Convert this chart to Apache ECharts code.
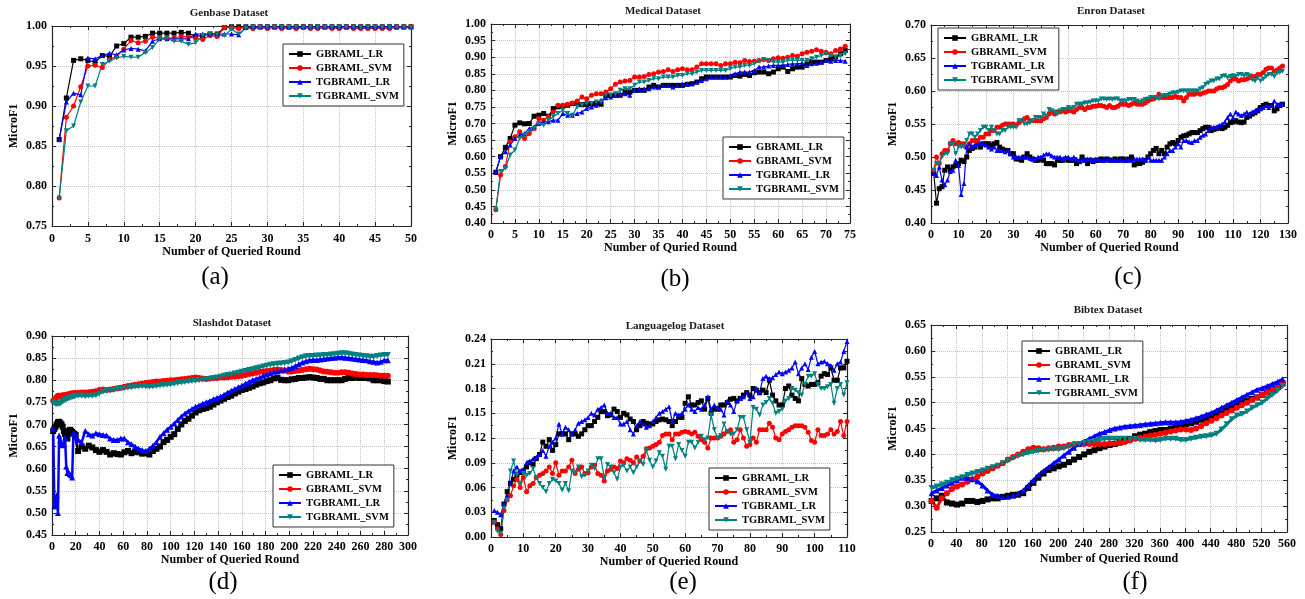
<!DOCTYPE html>
<html>
<head>
<meta charset="utf-8">
<script src="https://cdn.jsdelivr.net/npm/echarts@6/dist/echarts.min.js"></script>
<style>
  html, body { margin: 0; background: #fff; }
  #chart { width: 1305px; height: 599px; }
</style>
</head>
<body>
<div id="chart"></div>
<script>
const seriesNames = ['GBRAML_LR', 'GBRAML_SVM', 'TGBRAML_LR', 'TGBRAML_SVM'];
const colors = ['#000000', '#ff0000', '#0000ff', '#008080'];
const symbols = ['rect', 'circle', 'triangle', 'triangle'];
const symbolRotate = [0, 0, 0, 180];

// (a) Genbase, rounds 1..50
const genbaseLR = [
  0.858,0.910,0.957,0.959,0.957,0.955,0.963,0.962,0.975,0.978,
  0.986,0.986,0.987,0.991,0.991,0.991,0.991,0.992,0.991,0.987,
  0.988,0.990,0.990,0.998,0.999,0.999,0.999,0.999,0.999,0.999,
  0.999,0.999,0.999,0.999,0.999,0.999,0.999,0.999,0.999,0.999,
  0.999,0.999,0.999,0.999,0.999,0.999,0.999,0.999,0.999,0.999];
const genbaseSVM = [
  0.785,0.886,0.900,0.924,0.950,0.951,0.948,0.958,0.962,0.971,
  0.982,0.979,0.981,0.986,0.985,0.985,0.985,0.987,0.986,0.985,
  0.983,0.988,0.987,0.998,0.998,0.997,0.998,0.997,0.998,0.997,
  0.998,0.997,0.998,0.997,0.998,0.997,0.997,0.998,0.997,0.997,
  0.998,0.997,0.997,0.997,0.997,0.997,0.997,0.998,0.998,0.999];
const genbaseTLR = [
  0.858,0.905,0.916,0.914,0.960,0.959,0.963,0.966,0.964,0.970,
  0.972,0.971,0.969,0.981,0.984,0.984,0.984,0.984,0.984,0.990,
  0.990,0.990,0.990,0.990,0.990,0.989,0.998,0.999,0.999,0.999,
  0.999,0.999,0.999,0.999,0.999,0.999,0.999,0.999,0.999,0.999,
  0.999,0.999,0.999,0.999,0.999,0.999,0.999,0.999,0.999,0.999];
const genbaseTSVM = [
  0.785,0.869,0.875,0.905,0.925,0.925,0.952,0.956,0.960,0.962,
  0.961,0.961,0.967,0.973,0.984,0.984,0.981,0.981,0.977,0.979,
  0.988,0.990,0.989,0.988,0.996,0.990,0.997,0.998,0.998,0.998,
  0.998,0.998,0.998,0.998,0.998,0.998,0.998,0.998,0.998,0.998,
  0.998,0.998,0.998,0.998,0.998,0.998,0.998,0.998,0.998,0.998];

// (b) Medical, rounds 1..74
const medicalLR = [
  0.553,0.600,0.628,0.655,0.695,0.702,0.699,0.700,0.722,0.725,
  0.730,0.722,0.745,0.750,0.752,0.755,0.760,0.760,0.757,0.757,
  0.760,0.760,0.758,0.785,0.785,0.785,0.785,0.795,0.795,0.800,
  0.800,0.800,0.810,0.815,0.810,0.815,0.815,0.815,0.815,0.815,
  0.818,0.820,0.825,0.835,0.840,0.840,0.840,0.840,0.840,0.840,
  0.845,0.843,0.848,0.845,0.853,0.855,0.855,0.850,0.855,0.865,
  0.870,0.857,0.865,0.870,0.870,0.880,0.885,0.885,0.885,0.890,
  0.895,0.900,0.910,0.920];
const medicalSVM = [
  0.440,0.545,0.570,0.645,0.660,0.675,0.655,0.670,0.685,0.715,
  0.710,0.720,0.735,0.755,0.755,0.758,0.762,0.768,0.780,0.775,
  0.785,0.790,0.790,0.795,0.805,0.818,0.825,0.828,0.830,0.840,
  0.840,0.842,0.848,0.850,0.855,0.857,0.862,0.857,0.862,0.865,
  0.862,0.862,0.870,0.880,0.880,0.880,0.880,0.875,0.880,0.880,
  0.885,0.883,0.890,0.887,0.888,0.890,0.893,0.890,0.895,0.898,
  0.897,0.900,0.905,0.903,0.910,0.915,0.918,0.922,0.918,0.915,
  0.910,0.920,0.925,0.933];
const medicalTLR = [
  0.553,0.600,0.615,0.635,0.655,0.665,0.670,0.685,0.690,0.700,
  0.705,0.705,0.710,0.710,0.730,0.725,0.725,0.730,0.735,0.745,
  0.750,0.755,0.770,0.778,0.780,0.785,0.790,0.790,0.785,0.800,
  0.805,0.805,0.805,0.810,0.810,0.815,0.815,0.810,0.815,0.820,
  0.820,0.820,0.825,0.830,0.835,0.840,0.840,0.840,0.840,0.845,
  0.850,0.855,0.855,0.855,0.860,0.870,0.870,0.873,0.875,0.875,
  0.875,0.878,0.880,0.880,0.882,0.875,0.880,0.882,0.885,0.890,
  0.888,0.890,0.890,0.888];
const medicalTSVM = [
  0.440,0.555,0.565,0.605,0.620,0.655,0.665,0.675,0.685,0.700,
  0.695,0.710,0.720,0.730,0.740,0.730,0.725,0.750,0.755,0.760,
  0.760,0.765,0.765,0.785,0.785,0.790,0.800,0.805,0.805,0.815,
  0.825,0.825,0.830,0.835,0.835,0.840,0.840,0.840,0.845,0.845,
  0.850,0.850,0.855,0.860,0.860,0.860,0.860,0.860,0.860,0.865,
  0.870,0.870,0.875,0.875,0.880,0.888,0.893,0.890,0.885,0.885,
  0.885,0.890,0.890,0.890,0.890,0.890,0.895,0.900,0.905,0.910,
  0.905,0.900,0.905,0.910];

// (c) Enron, rounds 1..128
const enronLR = [
  0.475,0.430,0.452,0.455,0.480,0.485,0.480,0.485,0.487,0.490,
  0.495,0.493,0.500,0.510,0.513,0.515,0.520,0.515,0.520,0.520,
  0.520,0.518,0.520,0.522,0.515,0.512,0.510,0.510,0.505,0.505,
  0.497,0.497,0.495,0.500,0.505,0.500,0.497,0.495,0.495,0.497,
  0.495,0.490,0.490,0.490,0.488,0.495,0.495,0.495,0.497,0.495,
  0.495,0.495,0.490,0.493,0.500,0.495,0.490,0.495,0.493,0.495,
  0.495,0.497,0.495,0.497,0.495,0.495,0.497,0.495,0.497,0.497,
  0.495,0.497,0.500,0.488,0.490,0.490,0.492,0.495,0.500,0.505,
  0.510,0.513,0.505,0.510,0.505,0.515,0.520,0.522,0.520,0.525,
  0.530,0.532,0.533,0.535,0.537,0.537,0.537,0.540,0.543,0.545,
  0.545,0.540,0.542,0.543,0.545,0.543,0.545,0.548,0.552,0.553,
  0.555,0.553,0.552,0.553,0.560,0.562,0.565,0.567,0.570,0.575,
  0.578,0.580,0.578,0.578,0.570,0.573,0.578,0.580];
const enronSVM = [
  0.480,0.500,0.490,0.505,0.510,0.510,0.520,0.525,0.520,0.522,
  0.520,0.520,0.515,0.520,0.525,0.525,0.525,0.530,0.530,0.535,
  0.535,0.540,0.540,0.545,0.545,0.548,0.550,0.550,0.550,0.550,
  0.548,0.552,0.555,0.558,0.560,0.555,0.555,0.555,0.555,0.555,
  0.558,0.560,0.565,0.568,0.565,0.568,0.568,0.570,0.568,0.570,
  0.570,0.568,0.572,0.575,0.575,0.572,0.575,0.575,0.577,0.577,
  0.578,0.578,0.577,0.575,0.578,0.575,0.575,0.577,0.580,0.580,
  0.580,0.578,0.580,0.582,0.580,0.580,0.580,0.582,0.585,0.587,
  0.588,0.590,0.595,0.590,0.590,0.590,0.590,0.590,0.592,0.590,
  0.590,0.585,0.590,0.595,0.595,0.595,0.597,0.595,0.597,0.598,
  0.600,0.600,0.600,0.603,0.605,0.605,0.607,0.610,0.615,0.618,
  0.618,0.615,0.617,0.617,0.618,0.620,0.622,0.622,0.625,0.625,
  0.628,0.633,0.635,0.635,0.630,0.632,0.635,0.638];
const enronTLR = [
  0.475,0.472,0.485,0.465,0.458,0.465,0.478,0.480,0.495,0.487,
  0.443,0.460,0.515,0.520,0.515,0.518,0.520,0.520,0.520,0.518,
  0.515,0.512,0.515,0.510,0.510,0.510,0.508,0.510,0.505,0.500,
  0.500,0.500,0.500,0.500,0.500,0.498,0.497,0.497,0.500,0.500,
  0.503,0.505,0.505,0.502,0.500,0.500,0.500,0.497,0.500,0.500,
  0.497,0.500,0.497,0.495,0.497,0.495,0.497,0.497,0.495,0.497,
  0.497,0.495,0.495,0.497,0.497,0.495,0.495,0.495,0.495,0.495,
  0.495,0.495,0.495,0.497,0.497,0.497,0.497,0.495,0.500,0.495,
  0.495,0.495,0.495,0.495,0.500,0.505,0.510,0.510,0.515,0.520,
  0.515,0.525,0.525,0.523,0.522,0.525,0.525,0.530,0.533,0.535,
  0.540,0.545,0.545,0.545,0.548,0.550,0.553,0.560,0.565,0.560,
  0.568,0.565,0.563,0.565,0.568,0.565,0.568,0.570,0.573,0.573,
  0.575,0.578,0.575,0.578,0.585,0.580,0.580,0.580];
const enronTSVM = [
  0.480,0.490,0.490,0.500,0.505,0.505,0.520,0.520,0.505,0.515,
  0.515,0.515,0.525,0.535,0.535,0.530,0.535,0.540,0.545,0.545,
  0.540,0.545,0.540,0.535,0.535,0.540,0.540,0.545,0.545,0.545,
  0.545,0.555,0.555,0.550,0.550,0.552,0.555,0.560,0.560,0.560,
  0.565,0.562,0.572,0.570,0.568,0.565,0.570,0.572,0.572,0.575,
  0.573,0.575,0.580,0.580,0.580,0.582,0.582,0.583,0.585,0.585,
  0.585,0.588,0.588,0.587,0.588,0.587,0.588,0.588,0.585,0.585,
  0.585,0.587,0.587,0.587,0.585,0.583,0.585,0.587,0.588,0.590,
  0.590,0.590,0.588,0.592,0.593,0.593,0.595,0.597,0.597,0.598,
  0.600,0.600,0.600,0.600,0.600,0.600,0.600,0.603,0.605,0.610,
  0.612,0.615,0.615,0.618,0.618,0.622,0.623,0.620,0.622,0.623,
  0.622,0.625,0.625,0.623,0.625,0.623,0.617,0.615,0.620,0.615,
  0.618,0.622,0.625,0.625,0.622,0.627,0.628,0.630];

// (d) Slashdot: every round up to 20, then every third round
const roundsSlashdot = [];
for (let r = 1; r <= 20; r++) roundsSlashdot.push(r);
for (let r = 22; r <= 283; r += 3) roundsSlashdot.push(r);
const slashdotLR = [
  0.685,0.690,0.695,0.700,0.705,0.706,0.703,0.700,0.695,0.685,
  0.678,0.672,0.668,0.680,0.688,0.686,0.683,0.680,0.678,0.676,
  0.640,0.650,0.645,0.652,0.648,0.642,0.638,0.642,0.638,0.632,
  0.635,0.633,0.632,0.637,0.640,0.635,0.638,0.637,0.634,0.635,
  0.632,0.640,0.645,0.650,0.660,0.665,0.672,0.678,0.690,0.700,
  0.708,0.713,0.720,0.727,0.732,0.735,0.737,0.740,0.745,0.750,
  0.754,0.758,0.762,0.765,0.770,0.774,0.778,0.780,0.783,0.786,
  0.790,0.793,0.795,0.798,0.800,0.804,0.805,0.801,0.800,0.800,
  0.802,0.803,0.805,0.805,0.806,0.807,0.806,0.805,0.803,0.803,
  0.800,0.800,0.800,0.800,0.800,0.803,0.805,0.805,0.806,0.805,
  0.805,0.805,0.804,0.800,0.800,0.800,0.798,0.797];
const slashdotSVM = [
  0.753,0.755,0.758,0.762,0.765,0.765,0.764,0.765,0.766,0.765,
  0.766,0.767,0.767,0.768,0.768,0.770,0.770,0.770,0.771,0.770,
  0.771,0.772,0.772,0.773,0.774,0.775,0.778,0.779,0.778,0.779,
  0.780,0.782,0.783,0.785,0.787,0.788,0.790,0.791,0.792,0.794,
  0.795,0.796,0.797,0.797,0.798,0.799,0.800,0.800,0.801,0.802,
  0.803,0.804,0.805,0.806,0.805,0.804,0.803,0.804,0.805,0.805,
  0.806,0.806,0.807,0.808,0.808,0.809,0.810,0.812,0.814,0.815,
  0.817,0.819,0.820,0.821,0.822,0.823,0.824,0.823,0.822,0.820,
  0.820,0.821,0.822,0.823,0.825,0.826,0.825,0.824,0.822,0.820,
  0.819,0.818,0.817,0.817,0.818,0.818,0.817,0.815,0.814,0.813,
  0.813,0.812,0.812,0.812,0.811,0.810,0.810,0.810];
const slashdotTLR = [
  0.690,0.515,0.515,0.540,0.500,0.675,0.665,0.655,0.653,0.655,
  0.670,0.605,0.590,0.592,0.588,0.585,0.580,0.680,0.678,0.675,
  0.665,0.660,0.685,0.678,0.675,0.680,0.678,0.676,0.675,0.668,
  0.665,0.665,0.668,0.668,0.660,0.655,0.650,0.645,0.642,0.640,
  0.645,0.652,0.660,0.672,0.680,0.688,0.695,0.702,0.710,0.718,
  0.725,0.730,0.735,0.740,0.743,0.747,0.750,0.753,0.757,0.760,
  0.763,0.767,0.772,0.776,0.780,0.784,0.788,0.792,0.796,0.800,
  0.803,0.806,0.810,0.813,0.816,0.819,0.820,0.822,0.824,0.826,
  0.828,0.832,0.836,0.840,0.843,0.845,0.846,0.846,0.847,0.848,
  0.849,0.850,0.851,0.852,0.852,0.851,0.850,0.849,0.848,0.847,
  0.846,0.845,0.843,0.842,0.840,0.842,0.845,0.845];
const slashdotTSVM = [
  0.750,0.748,0.747,0.746,0.746,0.747,0.748,0.750,0.752,0.754,
  0.755,0.757,0.758,0.760,0.760,0.761,0.762,0.763,0.764,0.765,
  0.765,0.765,0.764,0.765,0.765,0.766,0.770,0.774,0.776,0.777,
  0.778,0.780,0.781,0.782,0.783,0.784,0.785,0.786,0.787,0.786,
  0.785,0.786,0.787,0.788,0.789,0.790,0.791,0.792,0.794,0.795,
  0.796,0.797,0.798,0.799,0.800,0.801,0.802,0.803,0.805,0.806,
  0.808,0.810,0.812,0.813,0.815,0.817,0.819,0.821,0.823,0.825,
  0.827,0.829,0.831,0.833,0.835,0.836,0.837,0.838,0.839,0.840,
  0.843,0.846,0.849,0.852,0.854,0.855,0.855,0.856,0.856,0.857,
  0.857,0.858,0.859,0.860,0.861,0.861,0.860,0.858,0.857,0.856,
  0.855,0.854,0.853,0.853,0.855,0.856,0.857,0.857];

// (e) Languagelog, rounds 1..110
const langLR = [
  0.020,0.015,0.010,0.040,0.055,0.065,0.070,0.075,0.078,0.080,
  0.085,0.090,0.088,0.095,0.100,0.115,0.110,0.118,0.105,0.112,
  0.125,0.125,0.125,0.118,0.125,0.125,0.122,0.125,0.130,0.135,
  0.135,0.140,0.145,0.152,0.152,0.147,0.148,0.155,0.152,0.145,
  0.150,0.148,0.143,0.140,0.130,0.135,0.140,0.138,0.137,0.137,
  0.140,0.142,0.143,0.142,0.140,0.135,0.140,0.145,0.145,0.162,
  0.170,0.160,0.160,0.163,0.165,0.155,0.168,0.150,0.155,0.155,
  0.160,0.160,0.163,0.167,0.168,0.165,0.168,0.172,0.175,0.172,
  0.180,0.178,0.175,0.178,0.175,0.190,0.172,0.165,0.160,0.160,
  0.180,0.183,0.172,0.168,0.165,0.192,0.185,0.183,0.185,0.185,
  0.187,0.195,0.198,0.197,0.205,0.190,0.190,0.205,0.205,0.213];
const langSVM = [
  0.018,0.010,0.003,0.032,0.045,0.050,0.062,0.070,0.060,0.072,
  0.055,0.062,0.065,0.072,0.075,0.077,0.080,0.085,0.077,0.090,
  0.075,0.080,0.080,0.085,0.093,0.077,0.082,0.085,0.077,0.078,
  0.085,0.087,0.077,0.075,0.068,0.080,0.082,0.085,0.083,0.092,
  0.090,0.095,0.093,0.090,0.097,0.092,0.098,0.107,0.108,0.110,
  0.112,0.115,0.123,0.125,0.125,0.118,0.125,0.125,0.127,0.128,
  0.127,0.125,0.127,0.122,0.118,0.115,0.108,0.120,0.120,0.120,
  0.122,0.125,0.128,0.130,0.115,0.118,0.130,0.120,0.110,0.112,
  0.120,0.115,0.130,0.130,0.130,0.138,0.133,0.120,0.118,0.125,
  0.128,0.130,0.133,0.135,0.135,0.135,0.133,0.127,0.117,0.115,
  0.130,0.123,0.123,0.125,0.130,0.125,0.128,0.140,0.123,0.140];
const langTLR = [
  0.032,0.030,0.027,0.040,0.050,0.065,0.080,0.085,0.080,0.082,
  0.090,0.092,0.095,0.097,0.100,0.105,0.098,0.110,0.115,0.120,
  0.137,0.125,0.133,0.130,0.125,0.130,0.138,0.140,0.142,0.145,
  0.150,0.148,0.155,0.157,0.160,0.150,0.150,0.145,0.145,0.137,
  0.137,0.140,0.130,0.125,0.135,0.140,0.137,0.133,0.135,0.140,
  0.145,0.150,0.152,0.155,0.158,0.140,0.150,0.148,0.150,0.155,
  0.160,0.155,0.152,0.157,0.155,0.160,0.170,0.155,0.160,0.157,
  0.155,0.148,0.165,0.160,0.152,0.165,0.168,0.170,0.175,0.168,
  0.170,0.180,0.175,0.192,0.195,0.192,0.193,0.197,0.200,0.198,
  0.200,0.202,0.205,0.212,0.198,0.205,0.210,0.203,0.218,0.225,
  0.210,0.212,0.213,0.210,0.208,0.202,0.210,0.212,0.225,0.237];
const langTSVM = [
  0.018,0.007,0.005,0.035,0.045,0.080,0.092,0.075,0.065,0.077,
  0.075,0.077,0.083,0.072,0.065,0.060,0.055,0.065,0.070,0.068,
  0.065,0.057,0.065,0.056,0.080,0.078,0.085,0.073,0.075,0.080,
  0.087,0.083,0.095,0.095,0.072,0.088,0.085,0.078,0.070,0.085,
  0.087,0.080,0.085,0.078,0.085,0.092,0.088,0.105,0.093,0.085,
  0.092,0.102,0.098,0.082,0.110,0.110,0.095,0.112,0.105,0.098,
  0.115,0.115,0.108,0.115,0.122,0.118,0.120,0.148,0.130,0.120,
  0.123,0.137,0.128,0.125,0.125,0.130,0.145,0.145,0.130,0.115,
  0.157,0.155,0.148,0.160,0.163,0.168,0.162,0.150,0.152,0.155,
  0.165,0.168,0.180,0.178,0.175,0.172,0.185,0.195,0.195,0.198,
  0.185,0.180,0.180,0.182,0.185,0.162,0.180,0.185,0.172,0.187];

// (f) Bibtex: every eighth round from 1 to 553
const roundsBibtex = [];
for (let r = 1; r <= 553; r += 8) roundsBibtex.push(r);
const bibtexLR = [
  0.310,0.315,0.320,0.307,0.305,0.303,0.305,0.310,0.310,0.308,
  0.310,0.313,0.315,0.315,0.318,0.320,0.322,0.322,0.325,0.335,
  0.345,0.355,0.363,0.370,0.373,0.377,0.380,0.385,0.390,0.395,
  0.400,0.405,0.408,0.412,0.415,0.418,0.420,0.423,0.427,0.430,
  0.435,0.438,0.440,0.443,0.445,0.447,0.447,0.450,0.452,0.455,
  0.458,0.460,0.463,0.467,0.470,0.473,0.478,0.483,0.488,0.490,
  0.495,0.500,0.503,0.507,0.510,0.515,0.520,0.525,0.530,0.537];
const bibtexSVM = [
  0.310,0.297,0.315,0.325,0.333,0.338,0.342,0.347,0.352,0.357,
  0.363,0.368,0.373,0.378,0.383,0.390,0.395,0.400,0.405,0.410,
  0.413,0.412,0.410,0.412,0.413,0.415,0.415,0.418,0.420,0.420,
  0.420,0.420,0.420,0.420,0.420,0.421,0.421,0.422,0.424,0.427,
  0.430,0.432,0.434,0.436,0.438,0.440,0.442,0.444,0.446,0.448,
  0.448,0.447,0.450,0.455,0.460,0.465,0.470,0.475,0.480,0.485,
  0.490,0.495,0.500,0.505,0.510,0.515,0.520,0.525,0.530,0.538];
const bibtexTLR = [
  0.325,0.330,0.335,0.340,0.345,0.350,0.355,0.355,0.352,0.348,
  0.340,0.330,0.322,0.320,0.318,0.318,0.320,0.325,0.330,0.340,
  0.350,0.360,0.368,0.375,0.383,0.390,0.398,0.405,0.413,0.420,
  0.425,0.430,0.435,0.440,0.443,0.447,0.450,0.452,0.454,0.455,
  0.456,0.457,0.458,0.459,0.460,0.461,0.462,0.462,0.462,0.463,
  0.465,0.467,0.470,0.473,0.477,0.480,0.485,0.490,0.495,0.500,
  0.505,0.510,0.515,0.520,0.525,0.528,0.532,0.536,0.540,0.545];
const bibtexTSVM = [
  0.335,0.338,0.342,0.345,0.350,0.353,0.356,0.360,0.363,0.366,
  0.369,0.372,0.375,0.378,0.383,0.388,0.393,0.397,0.400,0.403,
  0.405,0.407,0.408,0.409,0.410,0.410,0.412,0.415,0.418,0.420,
  0.422,0.424,0.426,0.428,0.430,0.430,0.430,0.430,0.430,0.429,
  0.430,0.428,0.428,0.428,0.427,0.428,0.430,0.430,0.430,0.428,
  0.428,0.430,0.432,0.434,0.435,0.437,0.440,0.448,0.458,0.468,
  0.475,0.478,0.483,0.490,0.495,0.500,0.508,0.515,0.523,0.532];

function seq(n) {
  const r = [];
  for (let i = 1; i <= n; i++) r.push(i);
  return r;
}

const queried = 'Number of Queried Round';
const panels = [
  { title: 'Genbase Dataset', caption: '(a)', xName: queried,
    box: [52, 26, 359, 200], titleAt: [229, 14], captionAt: [215, 278], legendAt: [283, 44],
    x: [0, 50, 5], y: [0.75, 1.0, 0.05], rounds: seq(50),
    values: [genbaseLR, genbaseSVM, genbaseTLR, genbaseTSVM], size: 5, width: 1.2, margin: 7, nameGap: 15 },
  { title: 'Medical Dataset', caption: '(b)', xName: 'Number of Quried Round',
    box: [491, 24, 359, 199], titleAt: [663, 12], captionAt: [675, 280], legendAt: [723, 137],
    x: [0, 75, 5], y: [0.4, 1.0, 0.05], rounds: seq(74),
    values: [medicalLR, medicalSVM, medicalTLR, medicalTSVM], size: 5, width: 1.2, margin: 6, nameGap: 18 },
  { title: 'Enron Dataset', caption: '(c)', xName: queried,
    box: [931, 25, 357, 198], titleAt: [1111, 12], captionAt: [1128, 278], legendAt: [938, 28],
    x: [0, 130, 10], y: [0.4, 0.7, 0.05], rounds: seq(128),
    values: [enronLR, enronSVM, enronTLR, enronTSVM], size: 5, width: 1.2, margin: 6, nameGap: 18 },
  { title: 'Slashdot Dataset', caption: '(d)', xName: queried,
    box: [52, 336, 356, 199], titleAt: [232, 324], captionAt: [223, 583], legendAt: [273, 465],
    x: [0, 300, 20], y: [0.45, 0.9, 0.05], rounds: roundsSlashdot,
    values: [slashdotLR, slashdotSVM, slashdotTLR, slashdotTSVM], size: 6, width: 2.5, margin: 6, nameGap: 18 },
  { title: 'Languagelog Dataset', caption: '(e)', xName: queried,
    box: [491, 339, 356, 198], titleAt: [675, 327], captionAt: [683, 583], legendAt: [709, 468],
    x: [0, 110, 10], y: [0, 0.24, 0.03], rounds: seq(110),
    values: [langLR, langSVM, langTLR, langTSVM], size: 5, width: 1.2, margin: 6, nameGap: 17 },
  { title: 'Bibtex Dataset', caption: '(f)', xName: queried,
    box: [931, 325, 356, 207], titleAt: [1108, 311], captionAt: [1135, 583], legendAt: [1022, 341],
    x: [0, 560, 40], y: [0.25, 0.65, 0.05], rounds: roundsBibtex,
    values: [bibtexLR, bibtexSVM, bibtexTLR, bibtexTSVM], size: 6, width: 3, margin: 6, nameGap: 21 }
];

const serif = "'Liberation Serif', 'Times New Roman', serif";
const frame = '#262626';

function baseAxis(gridIndex, position, range, showLabel) {
  return {
    type: 'value', gridIndex: gridIndex, position: position,
    min: range[0], max: range[1], interval: range[2],
    axisLine: { show: true, onZero: false, lineStyle: { color: frame, width: 1.2 } },
    axisTick: { show: true, inside: true, length: 4, lineStyle: { color: frame } },
    minorTick: { show: true, splitNumber: 2, length: 2, lineStyle: { color: frame } },
    axisLabel: { show: showLabel, color: '#000', fontFamily: serif, fontWeight: 'bold', fontSize: 12 },
    splitLine: { show: showLabel, lineStyle: { color: '#c4c4c4', type: 'dotted', width: 1 } }
  };
}

const option = {
  animation: false,
  backgroundColor: '#ffffff',
  title: [], legend: [], grid: [], xAxis: [], yAxis: [], series: []
};

panels.forEach((p, i) => {
  option.grid.push({ left: p.box[0], top: p.box[1], width: p.box[2], height: p.box[3] });

  const xb = baseAxis(i, 'bottom', p.x, true);
  xb.axisLabel.margin = p.margin;
  xb.name = p.xName;
  xb.nameLocation = 'middle';
  xb.nameGap = p.nameGap;
  xb.nameTextStyle = { color: '#000', fontFamily: serif, fontWeight: 'bold', fontSize: 12 };
  option.xAxis.push(xb, baseAxis(i, 'top', p.x, false));

  const yl = baseAxis(i, 'left', p.y, true);
  yl.axisLabel.margin = 5;
  yl.axisLabel.formatter = v => v.toFixed(2);
  yl.name = 'MicroF1';
  yl.nameLocation = 'middle';
  yl.nameRotate = 90;
  yl.nameGap = 32;
  yl.nameTextStyle = { color: '#000', fontFamily: serif, fontWeight: 'bold', fontSize: 12 };
  option.yAxis.push(yl, baseAxis(i, 'right', p.y, false));

  option.title.push({
    text: p.title, left: p.titleAt[0], top: p.titleAt[1] - 6, textAlign: 'center', padding: 0,
    textStyle: { fontFamily: serif, fontWeight: 'bold', fontSize: 11, color: '#1a1a1a' }
  });
  option.title.push({
    text: p.caption, left: p.captionAt[0], top: p.captionAt[1] - 13, textAlign: 'center', padding: 0,
    textStyle: { fontFamily: serif, fontWeight: 'normal', fontSize: 25, color: '#000' }
  });

  option.legend.push({
    data: seriesNames, orient: 'vertical', left: p.legendAt[0], top: p.legendAt[1],
    padding: [4, 5], itemGap: 2, itemWidth: 22, itemHeight: 7,
    borderColor: '#333', borderWidth: 1, backgroundColor: '#fff', selectedMode: false,
    textStyle: { fontFamily: serif, fontWeight: 'bold', fontSize: 10.5, color: '#000', lineHeight: 12 }
  });

  p.values.forEach((vals, k) => {
    option.series.push({
      name: seriesNames[k], type: 'line',
      xAxisIndex: 2 * i, yAxisIndex: 2 * i,
      data: vals.map((v, j) => [p.rounds[j], v]),
      symbol: symbols[k], symbolRotate: symbolRotate[k], symbolSize: p.size,
      showAllSymbol: true,
      color: colors[k],
      lineStyle: { width: p.width, color: colors[k] },
      itemStyle: { color: colors[k] }
    });
  });
});

const myChart = echarts.init(document.getElementById('chart'), null, { renderer: 'canvas' });
myChart.setOption(option);
</script>
</body>
</html>
